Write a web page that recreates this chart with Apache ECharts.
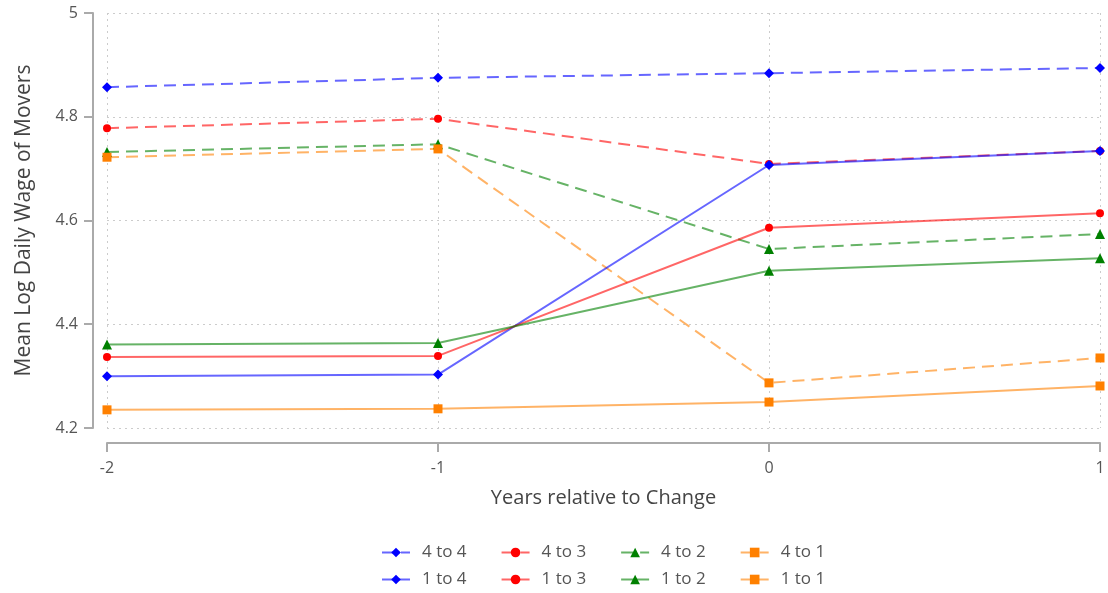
<!DOCTYPE html>
<html><head><meta charset="utf-8">
<script src="https://cdn.jsdelivr.net/npm/echarts@6/dist/echarts.min.js"></script>
<style>html,body{margin:0;padding:0;background:#fff}#c{width:1108px;height:593px}</style>
</head><body><div id="c"></div>
<script>
const years = [-2, -1, 0, 1];
const names = ['4 to 4', '4 to 3', '4 to 2', '4 to 1', '1 to 4', '1 to 3', '1 to 2', '1 to 1'];
const v4to4 = [4.857, 4.875, 4.884, 4.894];
const v4to3 = [4.778, 4.796, 4.709, 4.734];
const v4to2 = [4.732, 4.747, 4.545, 4.574];
const v4to1 = [4.722, 4.738, 4.287, 4.335];
const v1to4 = [4.300, 4.303, 4.707, 4.734];
const v1to3 = [4.337, 4.339, 4.586, 4.614];
const v1to2 = [4.361, 4.364, 4.503, 4.527];
const v1to1 = [4.235, 4.237, 4.250, 4.281];
const yTicks = [4.2, 4.4, 4.6, 4.8, 5];

const values = [v4to4, v4to3, v4to2, v4to1, v1to4, v1to3, v1to2, v1to1];
const markerColors = ['#0000ff', '#ff0000', '#008000', '#ff8000'];
const lineColors = ['rgba(0,0,255,0.6)', 'rgba(255,0,0,0.6)', 'rgba(0,128,0,0.6)', 'rgba(255,128,0,0.6)'];
const symbols = ['diamond', 'circle', 'triangle', 'rect'];
const sizes = [10, 8, 10, 9];

const series = names.map((n, i) => {
  const k = i % 4;
  return {
    name: n, type: 'line',
    data: years.map((x, j) => [x, values[i][j]]),
    symbol: symbols[k], symbolSize: sizes[k],
    itemStyle: { color: markerColors[k] },
    lineStyle: { color: lineColors[k], width: 2, type: i < 4 ? [12, 7] : 'solid' },
    z: i < 4 ? 2 : 3
  };
});

const legendBase = {
  left: 381, padding: 0, itemWidth: 28, itemHeight: 12, itemGap: 34,
  textStyle: { fontSize: 17, color: '#555', fontFamily: 'Open Sans', padding: [0, 0, 0, 7] }
};

const chart = echarts.init(document.getElementById('c'));
chart.setOption({
  animation: false,
  textStyle: { fontFamily: 'Open Sans' },
  grid: { left: 107, right: 8, top: 13, bottom: 165 },
  legend: [
    Object.assign({}, legendBase, { top: 544, data: names.slice(0, 4) }),
    Object.assign({}, legendBase, { top: 571, data: names.slice(4) })
  ],
  xAxis: {
    type: 'value', min: -2, max: 1, interval: 1, offset: 15,
    name: 'Years relative to Change', nameLocation: 'middle', nameGap: 45,
    nameTextStyle: { fontSize: 20, color: '#444' },
    axisLine: { show: true, onZero: false, lineStyle: { color: '#aaa', width: 2 } },
    axisTick: { show: true, length: 9, lineStyle: { color: '#aaa', width: 2 } },
    axisLabel: { fontSize: 16, color: '#555', margin: 17 },
    splitLine: { show: true, lineStyle: { color: '#ccc', type: [2, 4], width: 1 } }
  },
  yAxis: {
    type: 'value', min: 4.2, max: 5, interval: 0.2, offset: 14,
    name: 'Mean Log Daily Wage of Movers', nameLocation: 'middle', nameGap: 58,
    nameTextStyle: { fontSize: 21, color: '#444' },
    axisLine: { show: true, onZero: false, lineStyle: { color: '#aaa', width: 2 } },
    axisTick: { show: true, length: 9, lineStyle: { color: '#aaa', width: 2 } },
    axisLabel: { fontSize: 16, color: '#555', margin: 15,
      formatter: v => { const t = yTicks.find(x => Math.abs(x - v) < 1e-6); return t === undefined ? '' : String(t); } },
    splitLine: { show: true, lineStyle: { color: '#ccc', type: [2, 4], width: 1 } }
  },
  series: series
});
</script></body></html>
